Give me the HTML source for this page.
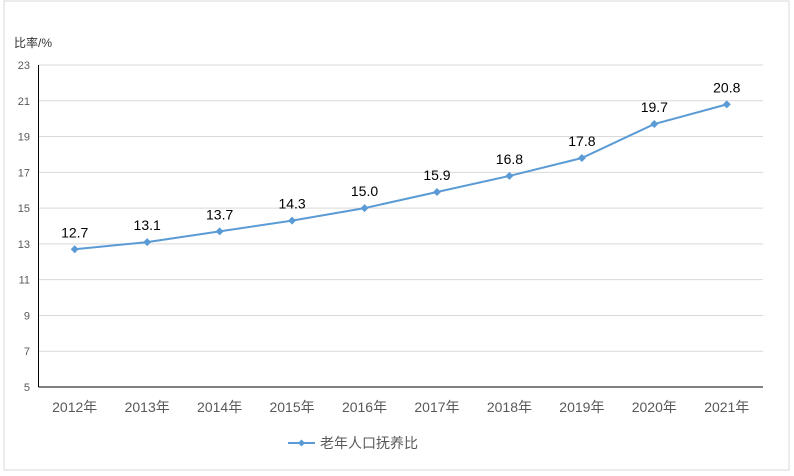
<!DOCTYPE html>
<html><head><meta charset="utf-8"><style>
body{margin:0;background:#fff}
svg{display:block;font-family:"Liberation Sans","Noto Sans CJK SC",sans-serif}
</style></head><body>
<svg id="c" width="794" height="476">
<rect x="4" y="1" width="785" height="469" fill="none" stroke="#d9d9d9"/>
<text x="14" y="47" font-size="12" fill="#333">比率/%</text>
<g id="grid"></g><g id="ax"></g><g id="series"></g>
<g>
<line x1="288" y1="443" x2="315" y2="443" stroke="#5b9bd5" stroke-width="2"/>
<path d="M301.5 439.5 L305 443 L301.5 446.5 L298 443Z" fill="#5b9bd5"/>
<text x="320" y="448" font-size="14" fill="#595959">老年人口抚养比</text>
</g>
</svg>
<script>
const categories=["2012年","2013年","2014年","2015年","2016年","2017年","2018年","2019年","2020年","2021年"];
const values=[12.7,13.1,13.7,14.3,15.0,15.9,16.8,17.8,19.7,20.8];
const yTicks=[5,7,9,11,13,15,17,19,21,23];
const NS="http://www.w3.org/2000/svg";
const L=38.5,R=763,T=65,B=387,yMin=5,yMax=23;
const x=i=>L+(R-L)/categories.length*(i+0.5);
const y=v=>B-(v-yMin)/(yMax-yMin)*(B-T);
function mk(tag,attrs,parent,text){const e=document.createElementNS(NS,tag);for(const k in attrs)e.setAttribute(k,attrs[k]);if(text!==undefined)e.textContent=text;parent.appendChild(e);return e;}
const grid=document.getElementById('grid'),ax=document.getElementById('ax'),s=document.getElementById('series');
yTicks.forEach(t=>{
 const g=mk('line',{x1:L,x2:R,y1:y(t),y2:y(t),stroke:'#d9d9d9','stroke-width':1},grid);
 
 
 const tx=mk('text',{x:30,y:y(t)+4,'font-size':11,fill:'#595959','text-anchor':'end'},ax,t);
 
 
});
const ya=mk('line',{x1:L,x2:L,y1:T,y2:B,stroke:'#000','stroke-width':1},ax);


const xa=mk('line',{x1:L,x2:R,y1:B,y2:B,stroke:'#000','stroke-width':1},ax);


categories.forEach((c,i)=>{
 const t=mk('text',{x:x(i),y:412,'font-size':14,fill:'#595959','text-anchor':'middle'},ax,c);
 
 
});
const p=mk('polyline',{points:values.map((v,i)=>x(i)+','+y(v)).join(' '),fill:'none',stroke:'#5b9bd5','stroke-width':2},s);


values.forEach((v,i)=>{
 const cx=x(i),cy=y(v);
 const m=mk('path',{d:`M${cx} ${cy-4}L${cx+4} ${cy}L${cx} ${cy+4}L${cx-4} ${cy}Z`,fill:'#5b9bd5'},s);
 
 
 const t=mk('text',{x:cx,y:cy-12,'font-size':14,fill:'#000','text-anchor':'middle'},s,v.toFixed(1));
 
 
});
</script>
</body></html>
